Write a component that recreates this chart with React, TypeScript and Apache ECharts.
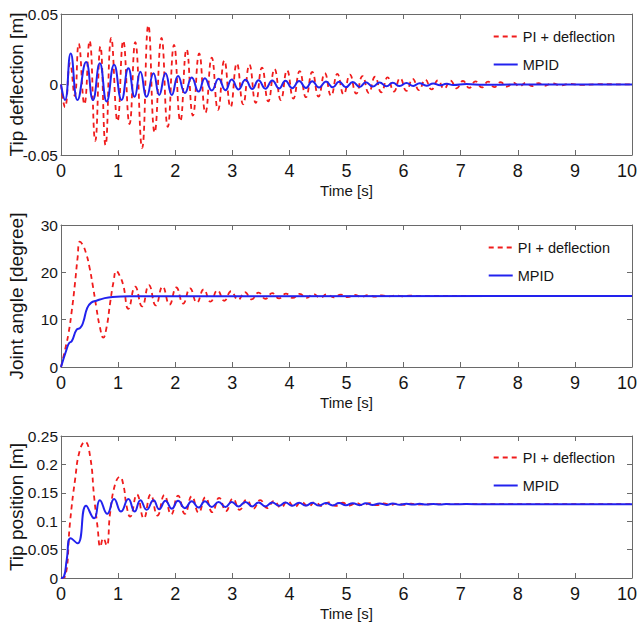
import React, { useEffect, useRef } from "react";
import * as echarts from "echarts";

const seriesNames = ["PI + deflection", "MPID"];
const timeLabel = "Time [s]";
const yTitles = ["Tip deflection [m]", "Joint angle [degree]", "Tip position [m]"];

// Panel 1: tip deflection [m] (t, value) read at turning points
const piDeflection: [number, number][] = [
  [0, 0], [0.07, -0.016], [0.16, 0.015], [0.24, -0.008], [0.31, 0.029], [0.41, -0.014],
  [0.5, 0.031], [0.6, -0.04], [0.69, 0.027], [0.78, -0.043], [0.88, 0.033], [0.99, -0.026],
  [1.09, 0.031], [1.2, -0.028], [1.3, 0.03], [1.42, -0.045], [1.53, 0.042], [1.64, -0.034],
  [1.76, 0.033], [1.87, -0.03], [1.98, 0.028], [2.09, -0.026], [2.2, 0.025], [2.31, -0.022],
  [2.42, 0.022], [2.53, -0.02], [2.64, 0.019], [2.75, -0.018], [2.86, 0.017], [2.97, -0.016],
  [3.08, 0.015], [3.19, -0.014], [3.3, 0.014], [3.41, -0.013], [3.52, 0.012], [3.63, -0.012],
  [3.74, 0.011], [3.85, -0.011], [3.96, 0.01], [4.07, -0.01], [4.18, 0.0095], [4.29, -0.009],
  [4.4, 0.009], [4.51, -0.0085], [4.62, 0.008], [4.73, -0.008], [4.84, 0.0075], [4.95, -0.007],
  [5.06, 0.007], [5.17, -0.0065], [5.28, 0.006], [5.39, -0.006], [5.5, 0.0055], [5.61, -0.0055],
  [5.72, 0.005], [5.83, -0.005], [5.94, 0.0045], [6.05, -0.0045], [6.16, 0.004], [6.27, -0.004],
  [6.38, 0.0035], [6.49, -0.0035], [6.6, 0.003], [6.71, -0.003], [6.82, 0.0028], [6.93, -0.0027],
  [7.04, 0.0025], [7.15, -0.0024], [7.26, 0.0022], [7.37, -0.0021], [7.48, 0.002], [7.59, -0.0018],
  [7.7, 0.0016], [7.81, -0.0015], [7.92, 0.0014], [8.03, -0.0013], [8.14, 0.0012], [8.25, -0.0011],
  [8.36, 0.001], [8.47, -0.0009], [8.6, 0.0008], [8.75, -0.0006], [8.9, 0.0005], [9.1, -0.0003],
  [9.4, 0.0002], [10, 0],
];
const mpidDeflection: [number, number][] = [
  [0, 0], [0.07, -0.011], [0.17, 0.022], [0.29, -0.011], [0.44, 0.016], [0.56, -0.011],
  [0.68, 0.015], [0.8, -0.012], [0.93, 0.014], [1.06, -0.011], [1.18, 0.0115], [1.29, -0.0087],
  [1.39, 0.009], [1.5, -0.0087], [1.62, 0.008], [1.72, -0.0074], [1.83, 0.008], [1.94, -0.0074],
  [2.05, 0.006], [2.17, -0.006], [2.29, 0.005], [2.41, -0.005], [2.52, 0.0045], [2.64, -0.0042],
  [2.76, 0.004], [2.88, -0.004], [2.99, 0.0036], [3.11, -0.0035], [3.23, 0.0033], [3.35, -0.0032],
  [3.46, 0.003], [3.58, -0.003], [3.7, 0.0029], [3.82, -0.0028], [3.93, 0.0027], [4.05, -0.0026],
  [4.17, 0.0025], [4.29, -0.0024], [4.4, 0.0023], [4.52, -0.0022], [4.64, 0.0021], [4.76, -0.002],
  [4.87, 0.002], [4.99, -0.0019], [5.11, 0.0018], [5.23, -0.0017], [5.34, 0.0016], [5.46, -0.0015],
  [5.58, 0.0014], [5.7, -0.0013], [5.81, 0.0012], [5.93, -0.0011], [6.05, 0.001], [6.17, -0.001],
  [6.28, 0.0009], [6.4, -0.0008], [6.52, 0.0007], [6.64, -0.0006], [6.75, 0.0005], [6.87, -0.0004],
  [7.1, 0.0003], [7.4, -0.0002], [8, 0], [10, 0],
];

// Panel 2: joint angle [degree]
const piJointAngle: [number, number][] = [
  [0, 0], [0.07, 3.6], [0.13, 7], [0.19, 12], [0.245, 17.7], [0.29, 23], [0.33, 26.5],
  [0.38, 25.8], [0.44, 24], [0.5, 21], [0.56, 17], [0.62, 12.5], [0.68, 8.5], [0.74, 6.2],
  [0.8, 8.5], [0.86, 13.5], [0.92, 18], [0.97, 20.3], [1.03, 19.2], [1.09, 17.3], [1.18, 12.3],
  [1.3, 17.0], [1.42, 12.8], [1.54, 17.3], [1.66, 13.0], [1.78, 17.0], [1.9, 13.2], [2.02, 16.8],
  [2.14, 13.4], [2.26, 16.6], [2.38, 13.6], [2.5, 16.4], [2.62, 13.8], [2.74, 16.2], [2.86, 14.0],
  [2.98, 16.0], [3.1, 14.2], [3.22, 15.8], [3.34, 14.3], [3.46, 15.7], [3.58, 14.4], [3.7, 15.6],
  [3.82, 14.5], [3.94, 15.5], [4.06, 14.6], [4.18, 15.45], [4.3, 14.6], [4.42, 15.4], [4.54, 14.65],
  [4.66, 15.35], [4.78, 14.7], [4.9, 15.3], [5.02, 14.75], [5.14, 15.25], [5.26, 14.8], [5.38, 15.2],
  [5.5, 14.85], [5.62, 15.15], [5.74, 14.9], [5.86, 15.1], [5.98, 14.92], [6.1, 15.08], [6.3, 15],
  [10, 15],
];
const mpidJointAngle: [number, number][] = [
  [0, 0], [0.1, 3.8], [0.14, 5], [0.19, 5.5], [0.27, 7.8], [0.34, 8.3], [0.39, 9.5], [0.46, 12.5],
  [0.53, 13.6], [0.62, 14], [0.75, 14.5], [0.9, 14.8], [1.2, 14.95], [10, 15],
];

// Panel 3: tip position [m]
const piTipPosition: [number, number][] = [
  [0, 0], [0.07, 0.002], [0.16, 0.1], [0.245, 0.172], [0.33, 0.225], [0.42, 0.24], [0.51, 0.214],
  [0.58, 0.143], [0.64, 0.09], [0.69, 0.055], [0.74, 0.07], [0.8, 0.057], [0.86, 0.114],
  [0.945, 0.164], [1.03, 0.178], [1.09, 0.165], [1.15, 0.126], [1.21, 0.108], [1.33, 0.147],
  [1.45, 0.105], [1.57, 0.147], [1.69, 0.11], [1.81, 0.146], [1.93, 0.112], [2.05, 0.145],
  [2.17, 0.113], [2.29, 0.144], [2.41, 0.115], [2.53, 0.142], [2.65, 0.116], [2.77, 0.141],
  [2.89, 0.118], [3.01, 0.14], [3.13, 0.12], [3.25, 0.138], [3.37, 0.122], [3.49, 0.137],
  [3.61, 0.123], [3.73, 0.136], [3.85, 0.124], [3.97, 0.135], [4.09, 0.125], [4.21, 0.134],
  [4.33, 0.126], [4.45, 0.1335], [4.57, 0.1265], [4.69, 0.133], [4.81, 0.127], [4.93, 0.1325],
  [5.05, 0.1275], [5.17, 0.132], [5.29, 0.128], [5.41, 0.1318], [5.53, 0.1283], [5.65, 0.1315],
  [5.77, 0.1286], [5.89, 0.1312], [6.01, 0.129], [6.13, 0.1308], [6.25, 0.1293], [6.5, 0.13],
  [10, 0.13],
];
const mpidTipPosition: [number, number][] = [
  [0, 0], [0.05, 0.002], [0.1, 0.032], [0.17, 0.07], [0.29, 0.061], [0.44, 0.127], [0.58, 0.105],
  [0.68, 0.137], [0.81, 0.113], [0.93, 0.139], [1.05, 0.117], [1.18, 0.139], [1.29, 0.117],
  [1.39, 0.137], [1.5, 0.12], [1.62, 0.137], [1.72, 0.121], [1.83, 0.136], [1.94, 0.122],
  [2.05, 0.136], [2.17, 0.123], [2.29, 0.135], [2.41, 0.124], [2.52, 0.135], [2.64, 0.125],
  [2.76, 0.134], [2.88, 0.125], [2.99, 0.134], [3.11, 0.126], [3.23, 0.134], [3.35, 0.126],
  [3.46, 0.133], [3.58, 0.126], [3.7, 0.133], [3.82, 0.127], [3.93, 0.133], [4.05, 0.127],
  [4.17, 0.1325], [4.29, 0.1275], [4.4, 0.1325], [4.52, 0.1275], [4.64, 0.1322], [4.76, 0.1278],
  [4.87, 0.132], [4.99, 0.128], [5.11, 0.1318], [5.23, 0.1282], [5.34, 0.1315], [5.46, 0.1285],
  [5.58, 0.1313], [5.7, 0.1287], [5.81, 0.131], [5.93, 0.129], [6.05, 0.1308], [6.17, 0.1292],
  [6.28, 0.1306], [6.4, 0.1294], [6.52, 0.1304], [6.64, 0.1296], [6.75, 0.1303], [6.87, 0.1297],
  [7.1, 0.1302], [7.4, 0.1299], [8, 0.13], [10, 0.13],
];

const yRanges = [
  { min: -0.05, max: 0.05, interval: 0.05 },
  { min: 0, max: 30, interval: 10 },
  { min: 0, max: 0.25, interval: 0.05 },
];
const xRange = { min: 0, max: 10, interval: 1 };

const panelData = [
  [piDeflection, mpidDeflection],
  [piJointAngle, mpidJointAngle],
  [piTipPosition, mpidTipPosition],
];

const FONT = "'Liberation Sans', Arial, sans-serif";
const AXIS_COLOR = "#6a6a6a";
const TEXT_COLOR = "#151515";
const RED = "#f01c1c";
const BLUE = "#2222ee";

export default function App() {
  const ref = useRef<HTMLDivElement>(null);
  useEffect(() => {
    if (!ref.current) return;
    const chart = echarts.init(ref.current, undefined, { renderer: "svg" });
    const grids = [
      { left: 61, top: 14, width: 571, height: 141, outerBoundsMode: "none", containLabel: false },
      { left: 61, top: 225, width: 571, height: 142, outerBoundsMode: "none", containLabel: false },
      { left: 61, top: 436, width: 571, height: 142, outerBoundsMode: "none", containLabel: false },
    ];
    const legendPos = [
      { top: 24, right: 19 },
      { top: 235, right: 24 },
      { top: 445, right: 19 },
    ];
    const tick = { show: true, inside: true, length: 5, lineStyle: { color: AXIS_COLOR } };
    const line = { show: true, onZero: false, lineStyle: { color: AXIS_COLOR, width: 1 } };
    const xAxes: any[] = [];
    const yAxes: any[] = [];
    grids.forEach((_, i) => {
      xAxes.push({
        type: "value", gridIndex: i, ...xRange, position: "bottom",
        axisLine: line, axisTick: tick,
        axisLabel: {
          fontSize: 18, fontFamily: FONT, color: TEXT_COLOR, margin: 7,
          formatter: (v: number) => (v === xRange.max ? "{e|" + v + "}" : String(v)),
          rich: { e: { fontSize: 18, fontFamily: FONT, color: TEXT_COLOR, padding: [0, 10, 0, 0] } },
        },
        splitLine: { show: false },
        name: timeLabel, nameLocation: "middle", nameGap: 28, nameMoveOverlap: false,
        nameTextStyle: { fontSize: 15, fontFamily: FONT, color: TEXT_COLOR },
      });
    });
    grids.forEach((_, i) => {
      xAxes.push({
        type: "value", gridIndex: i, ...xRange, position: "top",
        axisLine: line, axisTick: tick,
        axisLabel: { show: false }, splitLine: { show: false },
      });
    });
    grids.forEach((_, i) => {
      yAxes.push({
        type: "value", gridIndex: i, ...yRanges[i], position: "left",
        axisLine: line, axisTick: tick,
        axisLabel: { fontSize: 15.5, fontFamily: FONT, color: TEXT_COLOR, margin: 3 },
        splitLine: { show: false },
        name: yTitles[i], nameLocation: "middle", nameGap: 35, nameMoveOverlap: false,
        nameTextStyle: { fontSize: 19, fontFamily: FONT, color: TEXT_COLOR },
      });
    });
    grids.forEach((_, i) => {
      yAxes.push({
        type: "value", gridIndex: i, ...yRanges[i], position: "right",
        axisLine: line, axisTick: tick,
        axisLabel: { show: false }, splitLine: { show: false },
      });
    });
    const series: any[] = [];
    panelData.forEach((pair, i) => {
      series.push({
        name: seriesNames[0], type: "line", xAxisIndex: i, yAxisIndex: i,
        data: pair[0], showSymbol: false, symbol: "none", smooth: 0.5,
        lineStyle: { color: RED, width: 1.8, type: [5, 4] }, itemStyle: { color: RED },
        z: 2,
      });
      series.push({
        name: seriesNames[1], type: "line", xAxisIndex: i, yAxisIndex: i,
        data: pair[1], showSymbol: false, symbol: "none", smooth: 0.5,
        lineStyle: { color: BLUE, width: 2 }, itemStyle: { color: BLUE },
        z: 3,
      });
    });
    const legends = legendPos.map((p) => ({
      ...p, orient: "vertical", itemWidth: 24, itemHeight: 10, itemGap: 13, align: "left",
      data: seriesNames,
      itemStyle: { color: "rgba(0,0,0,0)", borderColor: "rgba(0,0,0,0)", borderWidth: 0, opacity: 0 },
      textStyle: { fontSize: 14.5, fontFamily: FONT, color: TEXT_COLOR },
    }));
    chart.setOption({
      animation: false,
      backgroundColor: "#ffffff",
      grid: grids,
      xAxis: xAxes,
      yAxis: yAxes,
      legend: legends,
      series,
    });
    return () => chart.dispose();
  }, []);
  return (
    <div
      ref={ref}
      style={{ position: "fixed", left: 0, top: 0, width: 639, height: 627, background: "#fff" }}
    />
  );
}
